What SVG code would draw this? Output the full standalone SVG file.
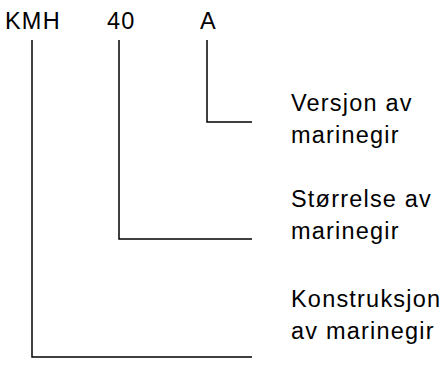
<svg xmlns="http://www.w3.org/2000/svg" width="447" height="384" viewBox="0 0 447 384">
<style>
text{font-family:"Liberation Sans",Arial,sans-serif;font-size:23.5px;letter-spacing:1.2px;fill:#000}
.c{fill:none;stroke:#000;stroke-width:1.5}
</style>
<rect width="447" height="384" fill="#fff"/>
<g id="code">
<text x="5" y="29">KMH</text>
<text x="107" y="29">40</text>
<text x="200" y="29">A</text>
</g>
<g id="connectors">
<polyline class="c" points="32,40 32,357 252,357"/>
<polyline class="c" points="119,40 119,239 252,239"/>
<polyline class="c" points="207,40 207,122 252,122"/>
</g>
<g id="versjon"><text x="291" y="111">Versjon av</text><text x="291" y="143">marinegir</text></g>
<g id="storrelse"><text x="291" y="207">Størrelse av</text><text x="291" y="239">marinegir</text></g>
<g id="konstruksjon"><text x="291" y="307">Konstruksjon</text><text x="291" y="339">av marinegir</text></g>
</svg>
